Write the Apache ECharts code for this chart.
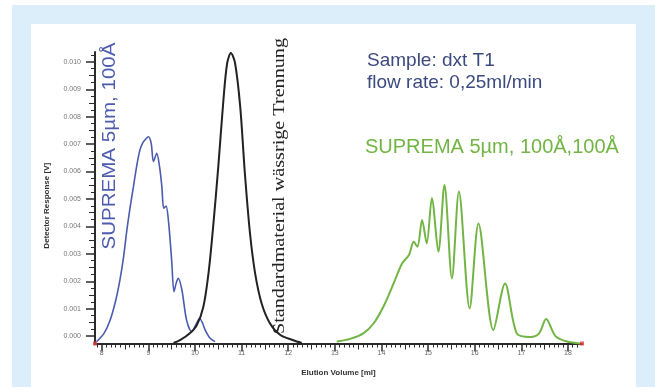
<!DOCTYPE html>
<html>
<head>
<meta charset="utf-8">
<script src="https://cdn.jsdelivr.net/npm/echarts@6/dist/echarts.min.js"></script>
<style>
  body { margin: 0; background: #fff; }
  #outer { position: absolute; left: 12px; top: 5px; width: 643px; height: 382px; background: #dceef9; }
  #panel { position: absolute; left: 31px; top: 24px; width: 605px; height: 363px; background: #fff; }
  #chart { position: absolute; left: 0; top: 0; width: 657px; height: 387px; }
</style>
</head>
<body>
<div id="outer"></div>
<div id="panel"></div>
<div id="chart"></div>
<script>
// Elution volume [ml] / detector response [V]
const blueVolume = [7.89, 8.05, 8.18, 8.30, 8.39, 8.47, 8.54, 8.61, 8.68, 8.75, 8.82, 8.88, 8.94, 9.00, 9.06, 9.11, 9.18, 9.24, 9.29, 9.33, 9.38, 9.43, 9.50, 9.55, 9.60, 9.64, 9.72, 9.82, 9.93, 10.02, 10.10, 10.16, 10.22, 10.32, 10.43];
const blueResponse = [-0.0002, 0.0001, 0.00058, 0.0013, 0.00204, 0.0029, 0.00387, 0.0047, 0.00545, 0.0062, 0.00679, 0.00705, 0.00718, 0.00727, 0.00704, 0.00636, 0.00667, 0.00618, 0.00545, 0.00466, 0.00474, 0.00423, 0.00277, 0.00162, 0.00195, 0.00211, 0.00168, 0.00058, 0.00016, 0.00042, 0.00064, 0.00048, 0.00022, -0.00007, -0.0002];

const blackVolume = [9.54, 9.68, 9.89, 10.04, 10.18, 10.29, 10.39, 10.50, 10.61, 10.69, 10.77, 10.86, 10.97, 11.07, 11.18, 11.29, 11.43, 11.61, 11.83, 12.11, 12.29];
const blackResponse = [-0.00025, -0.00015, 0.0001, 0.0004, 0.00107, 0.00229, 0.00399, 0.00618, 0.00861, 0.00995, 0.01032, 0.00995, 0.00837, 0.00594, 0.00375, 0.00229, 0.00119, 0.00046, 0.00004, -0.00015, -0.00025];

const greenVolume = [13.04, 13.33, 13.61, 13.83, 14.04, 14.26, 14.44, 14.54, 14.60, 14.69, 14.77, 14.87, 14.97, 15.08, 15.22, 15.35, 15.51, 15.66, 15.89, 16.08, 16.40, 16.65, 16.90, 17.19, 17.38, 17.53, 17.73, 17.98, 18.26];
const greenResponse = [-0.0002, -0.0001, 0.0001, 0.00046, 0.00107, 0.00192, 0.00265, 0.00285, 0.003, 0.00344, 0.00326, 0.00423, 0.00338, 0.00503, 0.00308, 0.00551, 0.0021, 0.00527, 0.00101, 0.00411, 0.00022, 0.00192, 0.0001, -0.00003, 0.0001, 0.00062, 0, -0.0002, -0.00027];

const xTickLabels = [8, 9, 10, 11, 12, 13, 14, 15, 16, 17, 18];
const yTickLabels = [0, 0.001, 0.002, 0.003, 0.004, 0.005, 0.006, 0.007, 0.008, 0.009, 0.010];

const xMin = 7.856, xMax = 18.3;
const yMin = -0.00027, yMax = 0.01036;

// in-between ticks
const xHalfTicks = xTickLabels.map(v => v - 0.5).filter(v => v > xMin);
const xTenthTicks = [];
[7].concat(xTickLabels).forEach(v => {
  [1, 2, 3, 4, 6, 7, 8, 9].forEach(k => {
    const t = v + k / 10;
    if (t > xMin && t < xMax) xTenthTicks.push(t);
  });
});
const yHalfTicks = yTickLabels.map(v => v + 0.0005).filter(v => v < yMax);
const yQuarterTicks = [];
yTickLabels.forEach(v => {
  [0.00025, 0.00075].forEach(d => { if (v + d < yMax) yQuarterTicks.push(v + d); });
});

const zip = (a, b) => a.map((v, i) => [v, b[i]]);
const axisColor = '#2a2a2a';

function xAxisLayer(ticks, len, main) {
  return {
    type: 'value', min: xMin, max: xMax, position: 'bottom',
    axisLine: { show: main, onZero: false, lineStyle: { color: axisColor, width: 2 } },
    axisTick: { customValues: ticks, length: len, lineStyle: { color: axisColor, width: main ? 1.5 : 1 } },
    axisLabel: main ? { customValues: xTickLabels, fontSize: 7, color: '#666', margin: 6 } : { show: false },
    splitLine: { show: false },
    name: main ? 'Elution Volume [ml]' : '',
    nameLocation: 'middle', nameGap: 25,
    nameTextStyle: { fontSize: 8, fontWeight: 'bold', color: '#333' }
  };
}
function yAxisLayer(ticks, len, main) {
  return {
    type: 'value', min: yMin, max: yMax, position: 'left',
    axisLine: { show: main, onZero: false, lineStyle: { color: axisColor, width: 2 } },
    axisTick: { customValues: ticks, length: len, lineStyle: { color: axisColor, width: main ? 1.5 : 1 } },
    axisLabel: main ? { customValues: yTickLabels, fontSize: 7, color: '#777', margin: 14, formatter: v => v.toFixed(3) } : { show: false },
    splitLine: { show: false },
    name: main ? 'Detector Response [V]' : '',
    nameLocation: 'middle', nameGap: 44,
    nameTextStyle: { fontSize: 8, fontWeight: 'bold', color: '#333', padding: [0, 16, 0, 0] }
  };
}

const chart = echarts.init(document.getElementById('chart'));
chart.setOption({
  backgroundColor: 'transparent',
  animation: false,
  textStyle: { fontFamily: 'Liberation Sans, Arial, sans-serif' },
  grid: { left: 95, right: 75, top: 52, bottom: 43.5 },
  xAxis: [xAxisLayer(xTickLabels, 8, true), xAxisLayer(xHalfTicks, 6, false), xAxisLayer(xTenthTicks, 4, false)],
  yAxis: [yAxisLayer(yTickLabels, 9, true), yAxisLayer(yHalfTicks, 6, false), yAxisLayer(yQuarterTicks, 4, false)],
  series: [
    {
      name: 'SUPREMA 5µm, 100Å', type: 'line', data: zip(blueVolume, blueResponse),
      showSymbol: false, smooth: 0.3, clip: false,
      lineStyle: { color: '#4b5bb0', width: 1.6 }
    },
    {
      name: 'Standardmaterial', type: 'line', data: zip(blackVolume, blackResponse),
      showSymbol: false, smooth: 0.3, clip: false,
      lineStyle: { color: '#222', width: 2 }
    },
    {
      name: 'SUPREMA 5µm, 100Å,100Å', type: 'line', data: zip(greenVolume, greenResponse),
      showSymbol: false, smooth: 0.3, clip: false,
      lineStyle: { color: '#72b545', width: 2 }
    },
    {
      type: 'scatter', data: [[xMin, yMin], [xMax, yMin]], symbol: 'rect', symbolSize: 4,
      itemStyle: { color: '#e23b3b' }, clip: false, z: 5
    }
  ],
  graphic: [
    {
      type: 'text', x: 110, y: 146, rotation: Math.PI / 2, scaleX: 1.08,
      style: { text: 'SUPREMA 5µm, 100Å', font: '19px "Liberation Sans", Arial, sans-serif', fill: '#4d5cae', textAlign: 'center', textVerticalAlign: 'middle' }
    },
    {
      type: 'text', x: 280, y: 186, rotation: Math.PI / 2, scaleX: 1.26,
      style: { text: 'Standardmaterial wässrige Trennung', font: '16px "Liberation Serif", "Times New Roman", serif', fill: '#222', textAlign: 'center', textVerticalAlign: 'middle' }
    },
    {
      type: 'text', x: 367, y: 61,
      style: { text: 'Sample: dxt T1', font: '19px "Liberation Sans", Arial, sans-serif', fill: '#3c4a80', textAlign: 'left', textVerticalAlign: 'middle' }
    },
    {
      type: 'text', x: 367, y: 83,
      style: { text: 'flow rate: 0,25ml/min', font: '19px "Liberation Sans", Arial, sans-serif', fill: '#3c4a80', textAlign: 'left', textVerticalAlign: 'middle' }
    },
    {
      type: 'text', x: 365, y: 147,
      style: { text: 'SUPREMA 5µm, 100Å,100Å', font: '20px "Liberation Sans", Arial, sans-serif', fill: '#72b545', textAlign: 'left', textVerticalAlign: 'middle' }
    }
  ]
});
</script>
</body>
</html>
